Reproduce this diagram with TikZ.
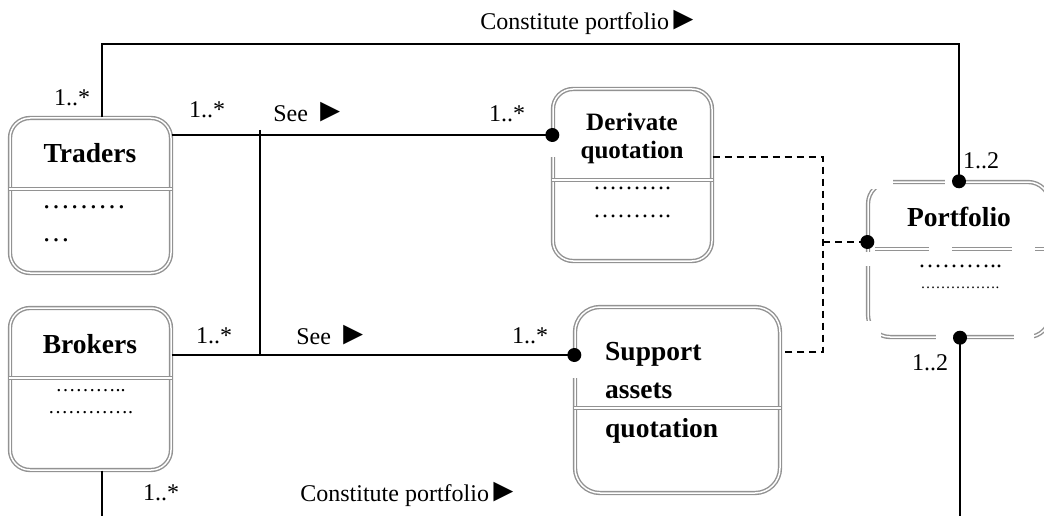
\documentclass[tikz,border=0pt]{standalone}
\usepackage{fontspec}
\setmainfont{Liberation Serif}
\newcommand{\tri}{{\fontsize{33}{34}\selectfont ►}}
\usetikzlibrary{calc}
\definecolor{boxgray}{HTML}{929292}
\begin{document}
\begin{tikzpicture}[x=1pt,y=-1pt,
  box/.style={draw=boxgray, double=white, double distance=1.5pt, line width=1.4pt, rounded corners=20pt, inner sep=0pt},
  sepline/.style={draw=boxgray, double=white, double distance=1.5pt, line width=1.4pt},
  conn/.style={line width=1.5pt, draw=black},
  dconn/.style={conn, dash pattern=on 7pt off 5pt},
  dot/.style={circle, fill=black, inner sep=0pt, minimum size=14pt},
  lbl/.style={font=\fontsize{24}{28}\selectfont, inner sep=0pt, anchor=base},
  ttl/.style={font=\fontsize{27.5}{30}\selectfont\bfseries, inner sep=0pt, anchor=base},
  dots/.style={font=\fontsize{24}{28}\selectfont, inner sep=0pt, anchor=base}
]
\useasboundingbox (0,0) rectangle (1044,516);
\clip (0,0) rectangle (1044,516);
\fill[white] (0,0) rectangle (1044,516);

% boxes
\node[box, minimum width=161pt, minimum height=155pt] (traders) at (90.5,195.5) {};
\node[box, minimum width=161pt, minimum height=162pt] (brokers) at (90.5,389) {};
\node[box, minimum width=159pt, minimum height=172pt] (derivate) at (632.5,175) {};
\node[box, rounded corners=25pt, minimum width=205pt, minimum height=186pt] (support) at (677.5,400) {};
\node[box, rounded corners=22pt, minimum width=182pt, minimum height=155pt] (portfolio) at (959,259.5) {};

% gaps in box outlines
\fill[white] (549,141) rectangle (557.5,157);
\fill[white] (571,361) rectangle (579.5,378);
\fill[white] (860,175) rectangle (893,189);
\fill[white] (945,175) rectangle (953,189);
\fill[white] (860,251.5) rectangle (876,266);
\fill[white] (860,321) rectangle (881,345);
\fill[white] (936,330) rectangle (953,345);
\fill[white] (1014,330) rectangle (1034,345);

% separators
\draw[sepline] (traders.west |- 0,189) -- (traders.east |- 0,189);
\draw[sepline] (brokers.west |- 0,378) -- (brokers.east |- 0,378);
\draw[sepline] (derivate.west |- 0,180) -- (derivate.east |- 0,180);
\draw[sepline] (support.west |- 0,408) -- (support.east |- 0,408);
\draw[sepline] (875,249) -- (929,249);
\draw[sepline] (952,249) -- (1012,249);
\draw[sepline] (1035,249) -- (1050,249);

% named coordinates
\coordinate (tl) at (102,44);
\coordinate (tr) at (959,44);
\coordinate (s1) at (260,135);
\coordinate (s2) at (260,355);
\coordinate (v1) at (260,130);
\coordinate (dA) at (823,157);
\coordinate (dB) at (823,352);
\coordinate (dC) at (823,242);
\coordinate (pb) at (960,516);
\coordinate (bl) at (102,516);

% connectors
\draw[conn] (traders.north -| tl) -- (tl) -- (tr) -- (portfolio.north -| tr) node[dot] (dp1) {};
\draw[conn] (traders.east |- s1) -- (derivate.west |- s1) node[dot] (dd) {};
\draw[conn] (v1) -- (s2);
\draw[conn] (brokers.east |- s2) -- (support.west |- s2) node[dot] (ds) {};
\draw[dconn] (derivate.east |- dA) -- (dA) -- (dB) -- (support.east |- dB);
\draw[dconn] (dC) -- (portfolio.west |- dC) node[dot] (dp2) {};
\draw[conn] (pb) -- (portfolio.south -| pb) node[dot] (dp3) {};
\draw[conn] (brokers.south -| bl) -- (bl);

% labels
\node[lbl] (l1) at (590,30) {Constitute portfolio\kern-2pt\tri};
\node[lbl] (l2) at (72,106) {1..*};
\node[lbl] (l3) at (207,118) {1..*};
\node[lbl] (l4) at (310,122) {See \tri};
\node[lbl] (l5) at (507,122) {1..*};
\node[lbl] (l6) at (214,343) {1..*};
\node[lbl] (l7) at (333,344) {See \tri};
\node[lbl] (l8) at (530,343) {1..*};
\node[lbl] (l9) at (981,168) {1..2};
\node[lbl] (l10) at (930,370) {1..2};
\node[lbl] (l11) at (161,500) {1..*};
\node[lbl] (l12) at (410,501) {Constitute portfolio\kern-2pt\tri};

% box texts
\node[ttl] (t1) at (90,163) {Traders};
\node[dots, font=\fontsize{28}{30}\selectfont, anchor=base west] (t1a) at (42,208) {………};
\node[dots, font=\fontsize{28}{30}\selectfont, anchor=base west] (t1b) at (42,241) {…};

\node[ttl] (t2) at (90,353) {Brokers};
\node[dots, font=\fontsize{20}{24}\selectfont] (t2a) at (90.5,391) {………..};
\node[dots, font=\fontsize{20}{24}\selectfont] (t2b) at (90.5,413) {………….};

\node[ttl, font=\fontsize{25}{28}\selectfont\bfseries] (t3) at (632,131) {Derivate};
\node[ttl, font=\fontsize{25}{28}\selectfont\bfseries] (t3b) at (632,159) {quotation};
\node[dots] (t3c) at (632,189) {……….};
\node[dots] (t3d) at (632,217) {……….};

\node[ttl, anchor=base west] (t4) at (605,360) {Support};
\node[ttl, anchor=base west] (t4b) at (605,398) {assets};
\node[ttl, anchor=base west] (t4c) at (605,437) {quotation};

\node[ttl] (t5) at (959,226) {Portfolio};
\node[dots] (t5a) at (960,267) {………..};
\node[dots, font=\fontsize{15}{18}\selectfont] (t5b) at (960,288) {…………….};
\end{tikzpicture}
\end{document}
